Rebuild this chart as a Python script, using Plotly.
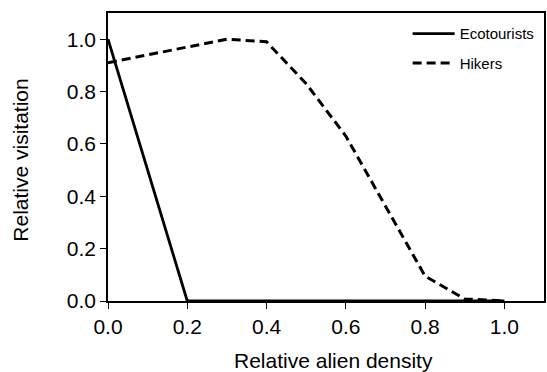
import plotly.graph_objects as go

density = [0.0, 0.1, 0.2, 0.3, 0.4, 0.5, 0.6, 0.7, 0.8, 0.9, 1.0]
ecotourists = [1.0, 0.5, 0.0, 0.0, 0.0, 0.0, 0.0, 0.0, 0.0, 0.0, 0.0]
hikers = [0.91, 0.94, 0.97, 1.0, 0.99, 0.83, 0.63, 0.36, 0.095, 0.008, 0.0]
tick_vals = [0.0, 0.2, 0.4, 0.6, 0.8, 1.0]
tick_text = ["0.0", "0.2", "0.4", "0.6", "0.8", "1.0"]

FONT = "Liberation Sans, Arial, sans-serif"

fig = go.Figure()
fig.add_trace(go.Scatter(x=density, y=ecotourists, mode="lines", name="Ecotourists",
                         line=dict(color="black", width=2.8), legendgroup="a"))
fig.add_trace(go.Scatter(x=density, y=hikers, mode="lines", name="Hikers",
                         line=dict(color="black", width=3, dash="9px,5px"), legendgroup="b"))

axis_common = dict(showgrid=False, zeroline=False, showline=True, linecolor="black",
                   linewidth=1.5, mirror=True, ticks="outside", ticklen=6, tickwidth=1.3,
                   tickcolor="black", tickvals=tick_vals, ticktext=tick_text,
                   tickfont=dict(family=FONT, size=21, color="black"), range=[0, 1.1])

fig.update_layout(
    width=547, height=372,
    margin=dict(l=108, r=1, t=13, b=71),
    paper_bgcolor="white", plot_bgcolor="white",
    xaxis=axis_common,
    yaxis=axis_common,
    showlegend=True,
    legend=dict(x=0.99, y=0.985, xanchor="right", yanchor="top",
                font=dict(family=FONT, size=15, color="black"), itemwidth=42,
                bgcolor="rgba(0,0,0,0)", tracegroupgap=7, traceorder="grouped"),
    annotations=[
        dict(text="Relative alien density", xref="paper", yref="paper", x=0.518, y=-0.16,
             xanchor="center", yanchor="top", showarrow=False,
             font=dict(family=FONT, size=21, color="black")),
        dict(text="Relative visitation", xref="paper", yref="paper", x=-0.20, y=0.49,
             xanchor="center", yanchor="middle", textangle=-90, showarrow=False,
             font=dict(family=FONT, size=21, color="black")),
    ],
)

fig.write_html("out.html", config={"displayModeBar": False},
               post_script="document.body.style.margin='0';document.body.style.overflow='hidden';")
